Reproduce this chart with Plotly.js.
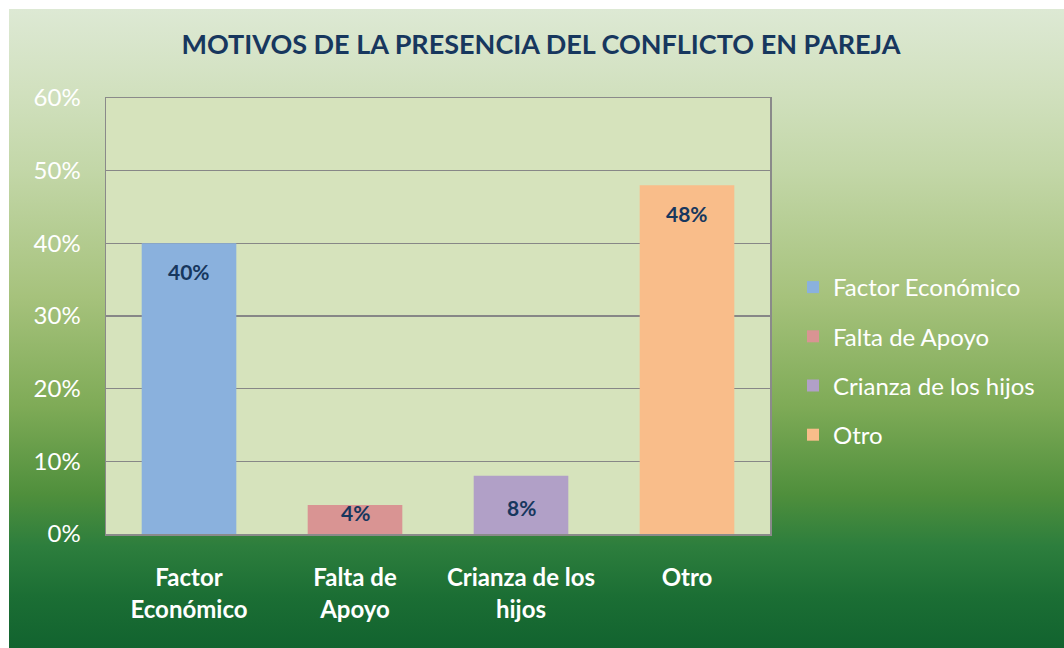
<!DOCTYPE html>
<html>
<head>
<meta charset="utf-8">
<script src="https://cdn.plot.ly/plotly-3.0.1.min.js"></script>
<style>
  html, body { margin: 0; padding: 0; background: #ffffff; }
  #bg { position: absolute; left: 9px; top: 9px; width: 1055px; height: 639px;
        background: linear-gradient(to bottom, #dde9d4 0%, #d2e1c0 12%, #c3d7a8 25%, #a6c27c 45%, #7fab57 62%, #4f8f3c 76%, #2d7e3d 84%, #1b6e34 92%, #12632f 100%); }
  #chart { position: absolute; left: 0; top: 0; width: 1064px; height: 648px; }
</style>
</head>
<body>
<div id="bg"></div>
<div id="chart"></div>
<script>
const categories = ["Factor Económico", "Falta de Apoyo", "Crianza de los hijos", "Otro"];
const tickLabels = ["Factor<br>Económico", "Falta de<br>Apoyo", "Crianza de los<br>hijos", "Otro"];
const values = [0.40, 0.04, 0.08, 0.48];
const valueLabels = ["40%", "4%", "8%", "48%"];
const yTickVals = [0, 0.1, 0.2, 0.3, 0.4, 0.5, 0.6];
const yTickText = ["0%", "10%", "20%", "30%", "40%", "50%", "60%"];

const colors = ["#8AB1DD", "#D99493", "#B1A0C7", "#F9BD8A"];
const labelShift = [-28, -8, -32, -28];

const traces = categories.map((c, i) => ({
  type: "bar",
  name: c,
  x: [tickLabels[i]],
  y: [values[i]],
  marker: { color: colors[i], line: { width: 0 } },
  width: 0.57,
  legendgroup: "g" + i,
  hoverinfo: "skip"
}));

const annotations = categories.map((c, i) => ({
  x: tickLabels[i], y: values[i], xref: "x", yref: "y",
  text: "<b>" + valueLabels[i] + "</b>", showarrow: false,
  yanchor: "middle", yshift: labelShift[i],
  font: { family: "Lato, sans-serif", size: 21, color: "#17375E" }
}));

const layout = {
  width: 1064, height: 648,
  paper_bgcolor: "rgba(0,0,0,0)",
  plot_bgcolor: "#D6E3BC",
  margin: { l: 106, r: 294, t: 98, b: 114 },
  barmode: "overlay",
  title: {
    text: "<b>MOTIVOS DE LA PRESENCIA DEL CONFLICTO EN PAREJA</b>",
    x: 541 / 1064, xref: "container", xanchor: "center",
    y: 1 - 45 / 648, yref: "container", yanchor: "middle",
    font: { family: "Lato, sans-serif", size: 27, color: "#17375E" }
  },
  xaxis: {
    type: "category",
    categoryorder: "array", categoryarray: tickLabels,
    showgrid: false, zeroline: false,
    showline: true, linecolor: "#8a8a8a", linewidth: 1.5, mirror: true,
    ticks: "", ticklabelstandoff: 22,
    tickfont: { family: "Lato, sans-serif", size: 24, color: "#ffffff", weight: "bold" }
  },
  yaxis: {
    range: [0, 0.6],
    tickvals: yTickVals, ticktext: yTickText,
    showgrid: true, gridcolor: "#878787", gridwidth: 1.5,
    zeroline: false,
    showline: true, linecolor: "#8a8a8a", linewidth: 1.5, mirror: true,
    ticks: "", ticklabelstandoff: 19,
    tickfont: { family: "Lato, sans-serif", size: 24, color: "#ffffff" }
  },
  legend: {
    x: (793 - 106) / 664, xanchor: "left",
    y: (534 - 361) / 436, yanchor: "middle",
    bgcolor: "rgba(0,0,0,0)",
    traceorder: "grouped", tracegroupgap: 15,
    font: { family: "Lato, sans-serif", size: 24, color: "#ffffff" }
  },
  annotations: annotations,
  showlegend: true
};

Plotly.newPlot("chart", traces, layout, { displayModeBar: false, staticPlot: true });
</script>
</body>
</html>
